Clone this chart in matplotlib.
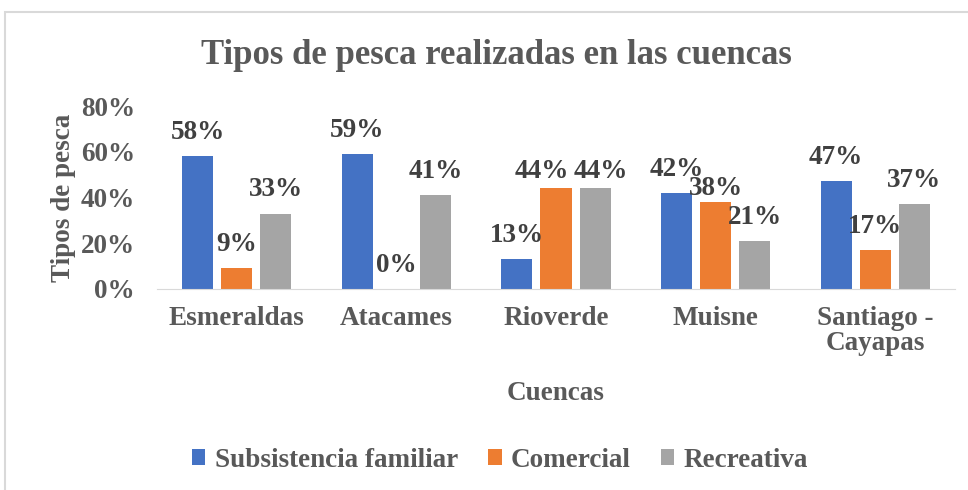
import numpy as np
import matplotlib.pyplot as plt
from matplotlib.patches import Rectangle

cuencas = ["Esmeraldas", "Atacames", "Rioverde", "Muisne", "Santiago -\nCayapas"]
series = ["Subsistencia familiar", "Comercial", "Recreativa"]
subsistencia = [0.58, 0.59, 0.13, 0.42, 0.47]
comercial = [0.09, 0.00, 0.44, 0.38, 0.17]
recreativa = [0.33, 0.41, 0.44, 0.21, 0.37]
colores = ["#4472C4", "#ED7D31", "#A5A5A5"]

# desplazamientos de etiquetas (pt) donde Excel las separa
ajustes = {(2, 1): (-10, -5), (2, 2): (4, -5), (3, 1): (0, -7)}

plt.rcParams["font.family"] = ["Liberation Serif", "DejaVu Serif"]
plt.rcParams["font.weight"] = "bold"
texto = "#595959"
fs = 19.5

fig = plt.figure(figsize=(9.68, 4.9), dpi=100)
fig.patches.append(Rectangle((5 / 968, -0.1), 1.2, 1 - 12 / 490 + 0.1,
                             transform=fig.transFigure, fill=False,
                             edgecolor="#D9D9D9", linewidth=1.5))
ax = fig.add_axes([157 / 968, 1 - 289 / 490, (955 - 157) / 968, 183 / 490])

x = np.arange(len(cuencas))
w = 0.195
off = 0.245
for i, (vals, nombre) in enumerate(zip([subsistencia, comercial, recreativa], series)):
    pos = x + (i - 1) * off
    ax.bar(pos, vals, w, color=colores[i], label=nombre, zorder=2)
    for j, (p, v) in enumerate(zip(pos, vals)):
        dx, dy = ajustes.get((j, i), (0, 0))
        ax.annotate(f"{v:.0%}", (p, v), xytext=(dx, 8 + dy), textcoords="offset points",
                    ha="center", va="bottom", fontsize=fs, fontweight="bold",
                    color="#404040", annotation_clip=False)

ax.set_xlim(-0.5, len(cuencas) - 0.5)
ax.set_ylim(0, 0.8)
ax.set_yticks([0, 0.2, 0.4, 0.6, 0.8])
ax.set_yticklabels(["0%", "20%", "40%", "60%", "80%"])
ax.set_xticks(x)
ax.set_xticklabels(cuencas, linespacing=1.0)
ax.tick_params(length=0, labelsize=fs, labelcolor=texto)
ax.tick_params(axis="y", pad=16)
ax.tick_params(axis="x", pad=12)
for s in ["top", "right", "left"]:
    ax.spines[s].set_visible(False)
ax.spines["bottom"].set_color("#D9D9D9")
ax.set_ylabel("Tipos de pesca", fontsize=fs, fontweight="bold", color=texto, labelpad=3)
ax.set_xlabel("Cuencas", fontsize=fs, fontweight="bold", color=texto, labelpad=18)

fig.text(496 / 968, 1 - 55 / 490, "Tipos de pesca realizadas en las cuencas",
         ha="center", va="center", fontsize=25, fontweight="bold", color=texto)

leg = fig.legend(loc="center", bbox_to_anchor=(500 / 968, 1 - 460 / 490), ncol=3,
                 frameon=False, fontsize=fs, handlelength=0.5, handleheight=0.5,
                 handletextpad=0.35, columnspacing=1.1)
for t in leg.get_texts():
    t.set_fontfamily(["Liberation Serif", "DejaVu Serif"])
    t.set_fontweight("bold")
    t.set_color(texto)

fig.savefig("out.png", dpi=100)
